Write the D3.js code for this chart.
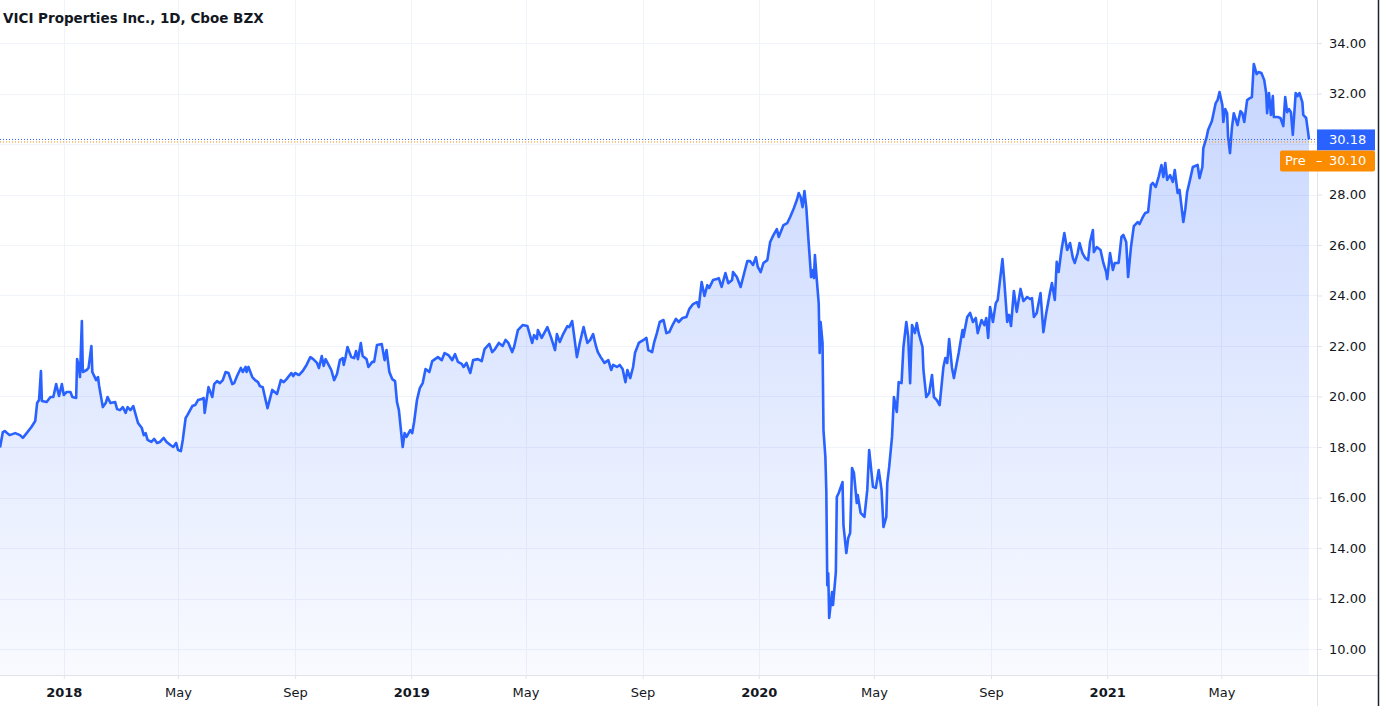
<!DOCTYPE html>
<html>
<head>
<meta charset="utf-8">
<script src="https://cdn.jsdelivr.net/npm/d3@7"></script>
<style>
  body { margin: 0; background: #ffffff; }
  svg { display: block; }
</style>
</head>
<body>
<div id="chart"></div>
<script>
// daily closes (VICI, Oct 2017 - Aug 2021)
var dates = [
  "2017-10-26","2017-10-29","2017-10-31","2017-11-05","2017-11-11","2017-11-16","2017-11-19","2017-11-23","2017-11-28",
  "2017-12-02","2017-12-04","2017-12-06","2017-12-08","2017-12-09","2017-12-14","2017-12-18","2017-12-21","2017-12-24",
  "2017-12-27","2017-12-30",
  "2018-01-01","2018-01-04","2018-01-08","2018-01-10","2018-01-14","2018-01-15","2018-01-17","2018-01-18","2018-01-20",
  "2018-01-21","2018-01-25","2018-01-27","2018-01-30","2018-01-31","2018-02-04","2018-02-06","2018-02-07","2018-02-11",
  "2018-02-14","2018-02-16","2018-02-19","2018-02-24","2018-02-26","2018-03-01","2018-03-04","2018-03-07","2018-03-09",
  "2018-03-12","2018-03-15","2018-03-17","2018-03-20","2018-03-24","2018-03-26","2018-03-28","2018-03-30","2018-04-03",
  "2018-04-06","2018-04-09","2018-04-12","2018-04-16","2018-04-19","2018-04-23","2018-04-26","2018-04-29","2018-05-01",
  "2018-05-04","2018-05-06","2018-05-09","2018-05-11","2018-05-16","2018-05-19","2018-05-22","2018-05-26","2018-05-28",
  "2018-05-29","2018-05-31","2018-06-02","2018-06-06","2018-06-08","2018-06-11","2018-06-14","2018-06-17","2018-06-20",
  "2018-06-23","2018-06-27","2018-06-29","2018-07-02","2018-07-06","2018-07-08","2018-07-11","2018-07-12","2018-07-14",
  "2018-07-18","2018-07-21","2018-07-24","2018-07-26","2018-07-29","2018-08-01","2018-08-03","2018-08-08","2018-08-13",
  "2018-08-17","2018-08-20","2018-08-23","2018-08-28","2018-08-30","2018-09-01","2018-09-05","2018-09-09","2018-09-13",
  "2018-09-17","2018-09-20","2018-09-24","2018-09-26","2018-09-29","2018-10-01","2018-10-03","2018-10-09","2018-10-12",
  "2018-10-15","2018-10-18","2018-10-21","2018-10-22","2018-10-24","2018-10-26","2018-10-30","2018-11-02","2018-11-04",
  "2018-11-06","2018-11-09","2018-11-11","2018-11-15","2018-11-17","2018-11-21","2018-11-23","2018-11-26","2018-12-01",
  "2018-12-04","2018-12-06","2018-12-09","2018-12-12","2018-12-15","2018-12-17","2018-12-19","2018-12-23","2018-12-25",
  "2018-12-27","2018-12-31",
  "2019-01-02","2019-01-04","2019-01-07","2019-01-10","2019-01-13","2019-01-16","2019-01-20","2019-01-23","2019-01-26",
  "2019-01-29","2019-02-02","2019-02-05","2019-02-09","2019-02-13","2019-02-16","2019-02-19","2019-02-23","2019-02-25",
  "2019-02-28","2019-03-04","2019-03-07","2019-03-12","2019-03-16","2019-03-19","2019-03-24","2019-03-27","2019-03-30",
  "2019-04-03","2019-04-07","2019-04-10","2019-04-13","2019-04-17","2019-04-19","2019-04-23","2019-04-28","2019-05-03",
  "2019-05-08","2019-05-10","2019-05-13","2019-05-14","2019-05-18","2019-05-24","2019-05-28","2019-06-01","2019-06-03",
  "2019-06-06","2019-06-09","2019-06-14","2019-06-16","2019-06-19","2019-06-21","2019-06-24","2019-06-27","2019-07-01",
  "2019-07-05","2019-07-08","2019-07-11","2019-07-14","2019-07-16","2019-07-19","2019-07-23","2019-07-27","2019-07-30",
  "2019-08-01","2019-08-05","2019-08-08","2019-08-11","2019-08-14","2019-08-16","2019-08-19","2019-08-22","2019-08-24",
  "2019-08-28","2019-09-02","2019-09-05","2019-09-07","2019-09-11","2019-09-13","2019-09-16","2019-09-19","2019-09-23",
  "2019-09-26","2019-09-29","2019-10-03","2019-10-06","2019-10-09","2019-10-13","2019-10-17","2019-10-20","2019-10-24",
  "2019-10-28","2019-10-30","2019-11-02","2019-11-05","2019-11-08","2019-11-10","2019-11-14","2019-11-18","2019-11-20",
  "2019-11-23","2019-11-27","2019-11-30","2019-12-04","2019-12-05","2019-12-09","2019-12-13","2019-12-17","2019-12-20",
  "2019-12-23","2019-12-26","2019-12-29","2019-12-31",
  "2020-01-03","2020-01-06","2020-01-10","2020-01-13","2020-01-16","2020-01-20","2020-01-22","2020-01-27","2020-01-31",
  "2020-02-03","2020-02-07","2020-02-10","2020-02-12","2020-02-14","2020-02-16","2020-02-18","2020-02-20","2020-02-22",
  "2020-02-25","2020-02-27","2020-02-28","2020-02-29","2020-03-02","2020-03-04","2020-03-05","2020-03-06","2020-03-08",
  "2020-03-09","2020-03-11","2020-03-12","2020-03-13","2020-03-14","2020-03-15","2020-03-18","2020-03-19","2020-03-22",
  "2020-03-23","2020-03-25","2020-03-29","2020-03-30","2020-04-02","2020-04-04","2020-04-06","2020-04-08","2020-04-10",
  "2020-04-13","2020-04-14","2020-04-17","2020-04-21","2020-04-24","2020-04-26","2020-04-30","2020-05-03","2020-05-06",
  "2020-05-09","2020-05-11","2020-05-14","2020-05-15","2020-05-17","2020-05-20","2020-05-22","2020-05-25","2020-05-27",
  "2020-05-30","2020-06-01","2020-06-04","2020-06-06","2020-06-08","2020-06-10","2020-06-13","2020-06-15","2020-06-17",
  "2020-06-21","2020-06-22","2020-06-25","2020-06-28","2020-07-01","2020-07-03","2020-07-06","2020-07-09","2020-07-13",
  "2020-07-15","2020-07-17","2020-07-19","2020-07-22","2020-07-24","2020-07-27","2020-07-29","2020-08-02","2020-08-03",
  "2020-08-07","2020-08-10","2020-08-13","2020-08-16","2020-08-18","2020-08-22","2020-08-25","2020-08-27","2020-08-29",
  "2020-08-31","2020-09-03","2020-09-06","2020-09-08","2020-09-13","2020-09-15","2020-09-18","2020-09-20","2020-09-22",
  "2020-09-25","2020-09-28","2020-10-02","2020-10-05","2020-10-09","2020-10-12","2020-10-14","2020-10-16","2020-10-19",
  "2020-10-23","2020-10-26","2020-10-29","2020-11-02","2020-11-04","2020-11-07","2020-11-09","2020-11-11","2020-11-14",
  "2020-11-17","2020-11-20","2020-11-23","2020-11-26","2020-11-28","2020-12-01","2020-12-03","2020-12-06","2020-12-09",
  "2020-12-12","2020-12-14","2020-12-17","2020-12-18","2020-12-21","2020-12-25","2020-12-28","2020-12-31",
  "2021-01-01","2021-01-04","2021-01-07","2021-01-09","2021-01-13","2021-01-16","2021-01-18","2021-01-21","2021-01-23",
  "2021-01-26","2021-01-29","2021-02-02","2021-02-04","2021-02-07","2021-02-10","2021-02-13","2021-02-16","2021-02-18",
  "2021-02-21","2021-02-24","2021-02-27","2021-03-01","2021-03-03","2021-03-05","2021-03-08","2021-03-11","2021-03-13",
  "2021-03-16","2021-03-18","2021-03-22","2021-03-24","2021-03-26","2021-03-29","2021-04-01","2021-04-06","2021-04-08",
  "2021-04-11","2021-04-12","2021-04-15","2021-04-17","2021-04-21","2021-04-25","2021-04-27","2021-04-29","2021-05-02",
  "2021-05-03","2021-05-05","2021-05-07","2021-05-08","2021-05-10","2021-05-12","2021-05-14","2021-05-18","2021-05-19",
  "2021-05-21","2021-05-23","2021-05-25","2021-05-28","2021-05-31","2021-06-02","2021-06-04","2021-06-07","2021-06-09",
  "2021-06-12","2021-06-15","2021-06-17","2021-06-18","2021-06-20","2021-06-22","2021-06-24","2021-06-25","2021-06-29",
  "2021-07-02","2021-07-05","2021-07-07","2021-07-09","2021-07-11","2021-07-13","2021-07-15","2021-07-18","2021-07-20",
  "2021-07-22","2021-07-25","2021-07-26","2021-07-29","2021-07-31","2021-08-01"
];

var closes = [
  17.98,18.59,18.63,18.47,18.55,18.47,18.36,18.55,18.79,
  19.03,19.74,19.86,21.01,19.82,19.78,19.98,19.98,20.49,
  20.02,20.49,
  20.06,20.18,20.18,19.98,19.94,21.48,21.13,20.77,22.99,
  20.97,21.05,21.13,22.0,20.97,20.65,20.77,20.45,19.58,
  19.74,19.98,19.74,19.78,19.5,19.46,19.58,19.35,19.58,
  19.46,19.62,19.35,18.95,18.75,18.47,18.55,18.28,18.2,
  18.32,18.16,18.2,18.36,18.2,18.08,18.0,18.16,17.88,
  17.84,18.28,19.15,19.27,19.62,19.66,19.86,19.9,19.94,
  19.35,19.86,20.37,19.98,20.49,20.61,20.53,20.65,20.97,
  20.93,20.49,20.53,20.81,21.13,20.97,21.17,20.97,21.17,
  20.77,20.65,20.57,20.41,20.37,19.86,19.54,20.26,20.1,
  20.65,20.57,20.69,20.93,20.81,20.93,20.85,21.01,21.25,
  21.56,21.48,21.33,21.13,21.6,21.21,21.48,21.05,20.65,
  20.89,21.44,21.52,21.25,21.56,21.96,21.56,21.52,21.8,
  21.48,22.12,21.6,21.48,21.17,21.37,21.37,22.04,22.08,
  21.44,21.84,20.97,20.69,20.61,19.78,19.46,18.0,18.55,
  18.4,18.67,
  18.55,18.99,19.86,20.33,20.53,21.09,20.97,21.4,21.48,
  21.56,21.44,21.72,21.64,21.44,21.68,21.37,21.29,21.17,
  21.33,20.93,21.44,21.48,21.4,21.88,22.08,21.76,21.88,
  22.12,22.0,22.24,22.12,21.76,21.96,22.63,22.83,22.79,
  22.12,22.43,22.28,22.63,22.32,22.75,22.32,21.84,22.47,
  22.16,22.43,22.79,22.75,22.99,22.43,21.56,22.12,22.75,
  22.12,22.24,22.47,22.0,21.76,21.56,21.33,21.44,21.05,
  21.25,21.17,21.25,21.09,20.57,21.05,20.73,21.17,21.72,
  22.12,22.24,22.32,21.84,21.76,22.12,22.51,22.95,23.03,
  22.51,22.55,22.87,23.07,22.95,23.11,23.15,23.46,23.66,
  23.74,23.54,24.53,23.98,24.41,24.3,24.61,24.65,24.69,
  24.34,24.89,24.49,24.61,24.93,24.73,24.34,24.93,25.36,
  25.36,25.21,25.52,25.13,
  24.93,25.29,25.4,26.12,26.36,26.63,26.32,26.79,26.87,
  27.11,27.47,27.78,28.06,27.9,27.5,28.14,27.47,26.32,
  24.73,25.01,24.69,25.6,24.61,23.7,21.72,22.95,22.12,
  18.67,17.6,16.22,12.53,13.0,11.23,12.26,11.74,13.05,
  16.02,16.18,16.61,14.91,13.8,14.4,14.59,17.17,16.97,
  15.78,16.1,15.39,15.23,16.3,17.88,16.42,16.38,17.09,
  16.3,14.83,15.23,16.57,17.21,18.4,19.98,19.39,20.57,
  20.53,21.96,22.95,22.36,20.53,22.83,22.51,22.91,22.51,
  21.96,21.05,19.98,20.14,20.85,19.98,19.86,19.66,21.17,
  21.52,21.33,22.28,21.13,20.73,21.33,21.72,22.63,22.36,
  23.15,23.31,22.95,23.11,22.51,23.03,22.83,23.11,22.32,
  23.54,22.95,23.7,23.82,25.44,24.53,22.95,23.23,22.79,
  24.18,23.35,24.26,23.78,23.94,23.86,23.9,23.15,23.31,
  24.1,22.55,23.31,24.14,24.49,23.82,25.33,24.93,25.8,
  26.47,25.8,26.08,25.48,25.29,25.68,26.08,25.68,25.48,
  25.4,26.12,26.59,25.72,25.92,25.8,25.29,24.93,
  24.65,25.68,25.01,25.29,25.29,26.32,26.4,26.12,24.73,
  25.92,26.75,26.91,26.83,27.07,27.27,27.31,28.38,28.46,
  28.3,28.69,29.17,28.69,29.25,28.58,28.77,28.5,28.97,
  28.06,28.18,26.91,27.39,28.1,28.58,29.09,29.17,28.65,
  29.09,29.84,30.2,30.55,30.91,31.62,31.74,32.06,31.54,
  30.87,31.38,31.22,30.28,29.64,30.63,31.22,30.75,30.95,
  31.3,31.22,30.87,31.74,31.82,31.86,33.17,32.77,32.85,
  32.81,32.53,32.02,31.22,32.02,31.15,31.9,31.07,31.07,
  31.03,30.71,31.86,31.26,31.38,31.26,30.36,32.02,31.9,
  32.02,31.66,31.15,31.03,30.48,30.18
];

var priceTicks = [10, 12, 14, 16, 18, 20, 22, 24, 26, 28, 30, 32, 34];
var timeTicks = ["2018-01-01", "2018-05-01", "2018-09-01", "2019-01-01", "2019-05-01", "2019-09-01",
                 "2020-01-01", "2020-05-01", "2020-09-01", "2021-01-01", "2021-05-01"];
var timeTickLabels = ["2018", "May", "Sep", "2019", "May", "Sep", "2020", "May", "Sep", "2021", "May"];

var lastPrice = 30.18,
    prePrice = 30.10;
var title = "VICI Properties Inc., 1D, Cboe BZX";

// layout of the TradingView style pane
var width = 1386,
    height = 706,
    plotRight = 1317,
    plotBottom = 675,
    lineEnd = 1309;

var blue = "#2962ff",
    orange = "#fb8c00",
    gridColor = "#f0f3fa",
    borderColor = "#e0e3eb",
    textColor = "#131722";

var parseDate = d3.timeParse("%Y-%m-%d");
var data = dates.map(function (d, i) { return { date: parseDate(d), close: closes[i] }; });

var x = d3.scaleTime()
  .domain(d3.extent(data, function (d) { return d.date; }))
  .range([0, lineEnd]);

var y = d3.scaleLinear()
  .domain([10, 34])
  .range([649, 43]);

var svg = d3.select("#chart")
  .append("svg")
    .attr("width", width)
    .attr("height", height)
    .style("font-family", "'DejaVu Sans', sans-serif");

// gradient under the line
var defs = svg.append("defs");
var grad = defs.append("linearGradient")
  .attr("id", "areaFill")
  .attr("gradientUnits", "userSpaceOnUse")
  .attr("x1", 0).attr("x2", 0)
  .attr("y1", y(d3.max(closes)))
  .attr("y2", plotBottom);
grad.append("stop").attr("offset", 0).attr("stop-color", blue).attr("stop-opacity", 0.26);
grad.append("stop").attr("offset", 1).attr("stop-color", blue).attr("stop-opacity", 0.03);

defs.append("clipPath").attr("id", "plotClip")
  .append("rect")
    .attr("x", 0).attr("y", 0)
    .attr("width", plotRight).attr("height", plotBottom);

// grid
var grid = svg.append("g");
grid.selectAll(".hgrid")
  .data(priceTicks)
  .enter()
  .append("line")
    .attr("x1", 0).attr("x2", plotRight)
    .attr("y1", function (d) { return Math.round(y(d)) + 0.5; })
    .attr("y2", function (d) { return Math.round(y(d)) + 0.5; })
    .attr("stroke", gridColor);
grid.selectAll(".vgrid")
  .data(timeTicks)
  .enter()
  .append("line")
    .attr("x1", function (d) { return Math.round(x(parseDate(d))) + 0.5; })
    .attr("x2", function (d) { return Math.round(x(parseDate(d))) + 0.5; })
    .attr("y1", 0).attr("y2", plotBottom)
    .attr("stroke", gridColor);

var plot = svg.append("g").attr("clip-path", "url(#plotClip)");

plot.append("path")
  .datum(data)
  .attr("fill", "url(#areaFill)")
  .attr("d", d3.area()
    .x(function (d) { return x(d.date); })
    .y0(plotBottom)
    .y1(function (d) { return y(d.close); }));

plot.append("path")
  .datum(data)
  .attr("fill", "none")
  .attr("stroke", blue)
  .attr("stroke-width", 2.6)
  .attr("stroke-linejoin", "round")
  .attr("d", d3.line()
    .x(function (d) { return x(d.date); })
    .y(function (d) { return y(d.close); }));

// dotted price lines
plot.append("line")
  .attr("x1", 0).attr("x2", plotRight)
  .attr("y1", y(prePrice) + 0.5).attr("y2", y(prePrice) + 0.5)
  .attr("stroke", orange)
  .attr("stroke-dasharray", "1,2");
plot.append("line")
  .attr("x1", 0).attr("x2", plotRight)
  .attr("y1", y(lastPrice)).attr("y2", y(lastPrice))
  .attr("stroke", blue)
  .attr("stroke-dasharray", "1,2");

// pane borders
svg.append("line")
  .attr("x1", 0).attr("x2", 1378)
  .attr("y1", plotBottom + 0.5).attr("y2", plotBottom + 0.5)
  .attr("stroke", borderColor);
svg.append("line")
  .attr("x1", plotRight + 0.5).attr("x2", plotRight + 0.5)
  .attr("y1", 0).attr("y2", height)
  .attr("stroke", borderColor);
svg.append("line")
  .attr("x1", 1378.5).attr("x2", 1378.5)
  .attr("y1", 0).attr("y2", height)
  .attr("stroke", "#1e222d")
  .attr("stroke-width", 1.5);

// price axis on the right; the tick hidden behind the price label gets no text
var yl = y(lastPrice);
var yAxis = svg.append("g")
  .attr("transform", "translate(" + plotRight + ",0)")
  .call(d3.axisRight(y)
    .tickValues(priceTicks)
    .tickSize(5)
    .tickPadding(7)
    .tickFormat(function (d) { return Math.abs(y(d) - yl) < 16 ? "" : d3.format(".2f")(d); }));
yAxis.select(".domain").remove();
yAxis.selectAll(".tick line").attr("stroke", borderColor);
yAxis.selectAll(".tick text")
  .attr("fill", textColor)
  .style("font-size", "13px")
  .style("font-family", "'DejaVu Sans', sans-serif");

// time axis at the bottom
var xAxis = svg.append("g")
  .attr("transform", "translate(0," + plotBottom + ")")
  .call(d3.axisBottom(x)
    .tickValues(timeTicks.map(parseDate))
    .tickSize(4)
    .tickPadding(9)
    .tickFormat(function (d, i) { return timeTickLabels[i]; }));
xAxis.select(".domain").remove();
xAxis.selectAll(".tick line").attr("stroke", borderColor);
xAxis.selectAll(".tick text")
  .attr("fill", textColor)
  .style("font-size", "13px")
  .style("font-family", "'DejaVu Sans', sans-serif")
  .style("font-weight", function (d, i) { return /^\d{4}$/.test(timeTickLabels[i]) ? "bold" : "normal"; });

// last price label
svg.append("rect")
  .attr("x", plotRight).attr("y", yl - 10)
  .attr("width", 58).attr("height", 21)
  .attr("fill", blue);
svg.append("text")
  .attr("x", plotRight + 12).attr("y", yl + 5)
  .attr("fill", "#fff")
  .style("font-size", "13px")
  .text(d3.format(".2f")(lastPrice));

// pre-market label stacked below it
var yp = yl + 21;
svg.append("rect")
  .attr("x", 1280).attr("y", yp - 10)
  .attr("width", 95).attr("height", 21)
  .attr("rx", 2)
  .attr("fill", orange);
svg.append("text")
  .attr("x", 1285).attr("y", yp + 5)
  .attr("fill", "#fff")
  .style("font-size", "13px")
  .text("Pre");
svg.append("text")
  .attr("x", 1316).attr("y", yp + 5)
  .attr("fill", "#fff")
  .style("font-size", "13px")
  .text("–");
svg.append("text")
  .attr("x", plotRight + 12).attr("y", yp + 5)
  .attr("fill", "#fff")
  .style("font-size", "13px")
  .text(d3.format(".2f")(prePrice));

// title
svg.append("text")
  .attr("x", 3).attr("y", 23)
  .attr("fill", textColor)
  .style("font-size", "13.5px")
  .style("font-weight", "bold")
  .text(title);
</script>
</body>
</html>
